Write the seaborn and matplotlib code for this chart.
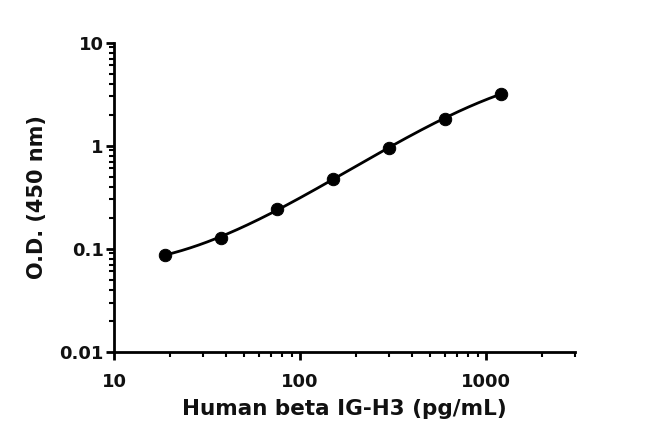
import numpy as np
import pandas as pd
import matplotlib
matplotlib.use("Agg")
import matplotlib.pyplot as plt
import seaborn as sns
from matplotlib.ticker import LogLocator, FuncFormatter, NullFormatter

# standard curve readings
conc = [18.75, 37.5, 75, 150, 300, 600, 1200]
od = [0.0875, 0.127, 0.241, 0.471, 0.956, 1.83, 3.18]

sns.set_style("ticks")
plt.rcParams["font.family"] = ["DejaVu Sans"]
plt.rcParams["font.weight"] = "bold"
plt.rcParams["text.color"] = "#111111"

df = pd.DataFrame({"conc": conc, "od": od})

# smooth fit in log-log space, drawn between the first and last standard
coef = np.polyfit(np.log10(conc), np.log10(od), 3)
xs = np.logspace(np.log10(conc[0]), np.log10(conc[-1]), 200)
fit = pd.DataFrame({"conc": xs, "od": 10 ** np.polyval(coef, np.log10(xs))})

fig = plt.figure(figsize=(6.5, 4.48), dpi=100)
ax = fig.add_axes([0.1754, 0.215, 0.709, 0.69])

sns.lineplot(data=fit, x="conc", y="od", color="black", linewidth=2, ax=ax)
sns.scatterplot(data=df, x="conc", y="od", color="black", s=80,
                edgecolor="black", zorder=3, ax=ax)

ax.set_xscale("log")
ax.set_yscale("log")
ax.set_xlim(10, 3000)
ax.set_ylim(0.01, 10)

fmt = FuncFormatter(lambda v, p: f"{v:g}")
ax.xaxis.set_major_locator(LogLocator(base=10, numticks=10))
ax.yaxis.set_major_locator(LogLocator(base=10, numticks=10))
ax.xaxis.set_minor_locator(LogLocator(base=10, subs=np.arange(2, 10), numticks=20))
ax.yaxis.set_minor_locator(LogLocator(base=10, subs=np.arange(2, 10), numticks=20))
ax.xaxis.set_major_formatter(fmt)
ax.yaxis.set_major_formatter(fmt)
ax.xaxis.set_minor_formatter(NullFormatter())
ax.yaxis.set_minor_formatter(NullFormatter())

sns.despine(ax=ax)
for s in ["left", "bottom"]:
    ax.spines[s].set_linewidth(2)
    ax.spines[s].set_color("black")
ax.tick_params(which="major", length=6, width=2, colors="black", labelcolor="#111111",
               labelsize=13)
ax.tick_params(which="minor", length=3.5, width=1.5, colors="black")
ax.tick_params(axis="x", which="major", pad=9)
ax.tick_params(axis="y", which="major", pad=1.5)
for lbl in ax.get_xticklabels() + ax.get_yticklabels():
    lbl.set_fontweight("bold")

ax.set_xlabel("Human beta IG-H3 (pg/mL)", fontsize=15.5, fontweight="bold",
              color="#111111", labelpad=6)
ax.set_ylabel("O.D. (450 nm)", fontsize=15, fontweight="bold",
              color="#111111", labelpad=9)

fig.savefig("out.png", dpi=100)
